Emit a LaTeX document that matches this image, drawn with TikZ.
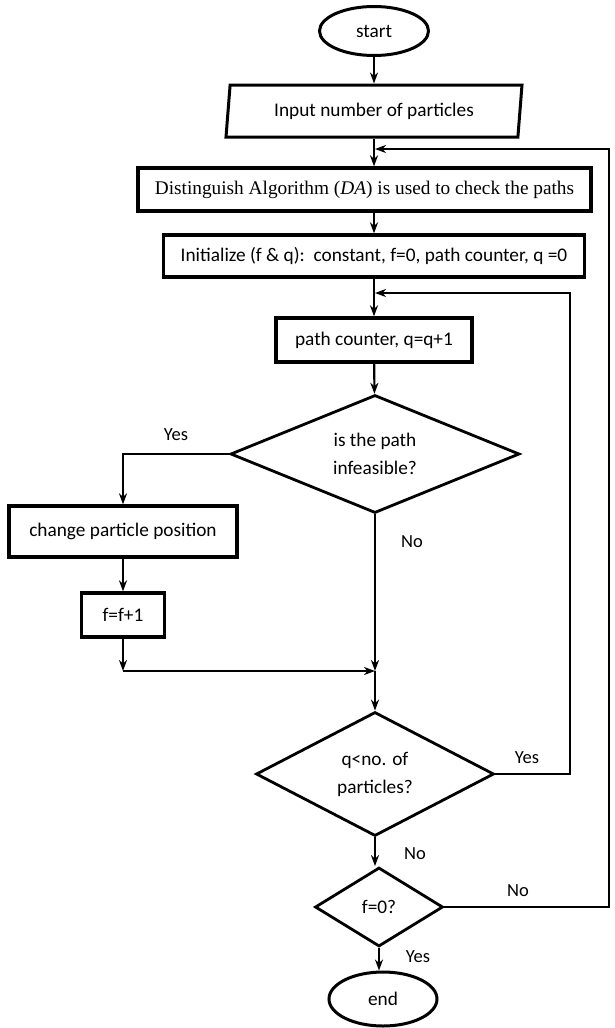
\documentclass[tikz,border=0pt]{standalone}
\usepackage{fontspec}
\setmainfont{Carlito}
\newfontfamily\serifda{Liberation Serif}
\usetikzlibrary{shapes.geometric, arrows.meta}

\begin{document}
\begin{tikzpicture}[x=1pt, y=-1pt,
  every node/.style={align=center, font=\fontsize{19.3}{28}\selectfont},
  terminal/.style={draw, ellipse, line width=3pt, inner sep=0pt, minimum width=109pt, minimum height=49pt},
  procbox/.style={draw, rectangle, line width=3.3pt, inner sep=0pt, minimum height=43pt},
  decision/.style={draw, diamond, line width=2.8pt, inner sep=0pt, aspect=2.4},
  flow/.style={-{Stealth[length=11pt, width=8pt, inset=3.5pt]}, line width=2.2pt},
  loopline/.style={-{Stealth[length=11pt, width=8pt, inset=3.5pt]}, line width=1.9pt},
  lbl/.style={font=\fontsize{18.5}{20}\selectfont}]
\useasboundingbox (0,0) rectangle (615,1028);

% Top of the chart
\node[terminal] (start) at (374,31) {start};
\node[draw, trapezium, trapezium left angle=76, trapezium right angle=104, trapezium stretches body, line width=3pt, inner sep=0pt, minimum width=296pt, minimum height=52pt] (input) at (374,111) {Input number of particles};
\node[procbox, minimum width=453pt] (da) at (364.5,189.5) {\serifda Distinguish Algorithm (\textit{DA}) is used to check the paths};
\node[procbox, minimum width=421pt, minimum height=42pt] (init) at (374,256) {Initialize (f \& q):\ \ constant, f=0, path counter, q =0};
\node[procbox, minimum width=196pt, minimum height=44pt] (counter) at (374,340) {path counter, q=q+1};

% First test
\node[decision, minimum width=289pt, minimum height=118pt] (feas) at (375,454) {is the path\\infeasible?};
\node[procbox, minimum width=228pt, minimum height=51pt] (change) at (123,531.5) {change particle position};
\node[procbox, minimum width=83pt, minimum height=44pt] (fincr) at (123,615) {f=f+1};
\coordinate (corner) at (123,671);
\coordinate (merge) at (375,671);

% Second and third test
\node[decision, minimum width=238pt, minimum height=124pt] (qcheck) at (375,774) {q<no. of\\particles?};
\node[decision, minimum width=128pt, minimum height=79pt] (fzero) at (379,907) {f=0?};
\node[terminal, minimum width=108pt, minimum height=54pt] (stop) at (383,999) {end};

% Loop entries
\coordinate (loopout) at (375,149);
\coordinate (fback) at (609,149);
\coordinate (loopin) at (375,293);
\coordinate (qback) at (570,293);

% Arrows
\draw[flow] (start) -- (input);
\draw[flow] (input.south) -- (input.south |- da.north);
\draw[flow] (init.north |- da.south) -- (init.north);
\draw[flow] (init) -- (counter);
\draw[flow] (counter) -- (feas);
\draw[flow] (feas.west) -| (change.north);
\draw[flow] (change) -- (fincr);
\draw[flow] (fincr.south) -- (corner);
\draw[flow] (corner) -- (merge);
\draw[flow] (feas.south) -- (merge);
\draw[flow] (merge) -- (qcheck.north);
\draw[flow] (qcheck.south) -- (qcheck.south |- fzero.north);
\draw[flow] (fzero.south) -- (fzero.south |- stop.north);

% Loops back
\draw[loopline] (qcheck.east) -| (qback) -- (loopin);
\draw[loopline] (fzero.east) -| (fback) -- (loopout);

% Labels
\node[lbl] (yes1) at (176,435) {Yes};
\node[lbl] (no1) at (412,542) {No};
\node[lbl] (yes2) at (527,758) {Yes};
\node[lbl] (no2) at (415,854) {No};
\node[lbl] (no3) at (518,891) {No};
\node[lbl] (yes3) at (418,957) {Yes};
\end{tikzpicture}
\end{document}
